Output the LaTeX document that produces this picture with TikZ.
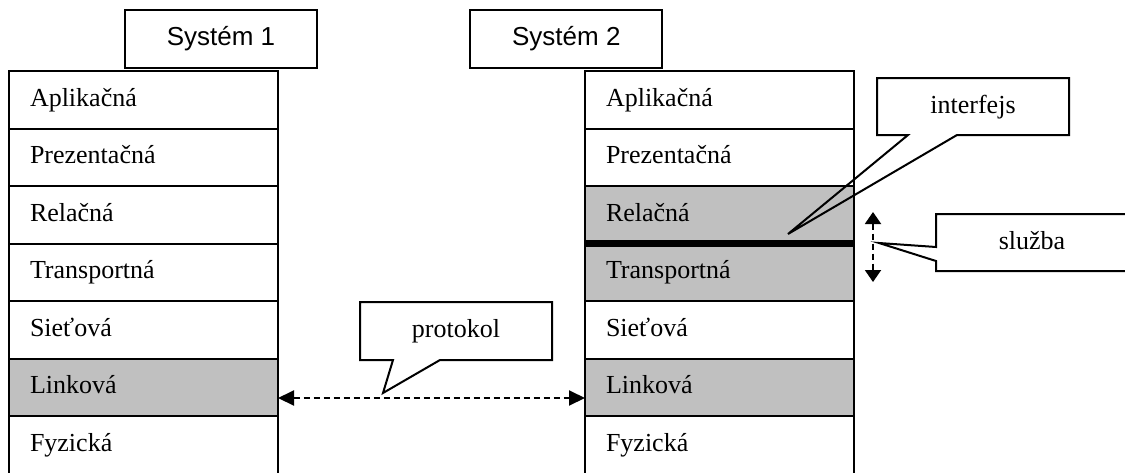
\documentclass[tikz,border=0pt]{standalone}
\usepackage{fontspec}
\setmainfont{Liberation Serif}
\newfontfamily\arialfont{Liberation Sans}
\usetikzlibrary{arrows.meta,calc}
\definecolor{layergray}{RGB}{192,192,192}
\begin{document}
\begin{tikzpicture}[x=1pt,y=-1pt,
  every path/.style={line width=2pt},
  layer/.style={draw,line width=2pt,outer sep=0pt,minimum width=269pt,minimum height=57.5pt,
    inner xsep=21pt,inner ysep=0pt,text width=227pt,align=left,
    text height=19pt,text depth=6pt,font=\fontsize{26}{30}\selectfont},
  shaded/.style={fill=layergray},
  sysbox/.style={draw,line width=2pt,minimum width=192pt,minimum height=58pt,inner sep=0pt,
    font=\arialfont\fontsize{26}{30}\selectfont,text height=19pt,text depth=6pt},
  calltext/.style={inner sep=0pt,font=\fontsize{26}{30}\selectfont,text height=19.5pt,text depth=6pt},
  callout/.style={draw,line width=2pt,line join=miter},
  dasharrow/.style={line width=2pt,dash pattern=on 6pt off 4pt},
]
\useasboundingbox (0,0) rectangle (1125,472);

% system labels
\node[sysbox] (s1) at (221,39) {Systém 1};
\node[sysbox] (s2) at (566.3,39) {Systém 2};

% left stack
\node[layer] (l0) at (143.5,99.75) {Aplikačná};
\node[layer] (l1) at (143.5,157.25) {Prezentačná};
\node[layer] (l2) at (143.5,214.75) {Relačná};
\node[layer] (l3) at (143.5,272.25) {Transportná};
\node[layer] (l4) at (143.5,329.75) {Sieťová};
\node[layer,shaded] (l5) at (143.5,387.25) {Linková};
\node[layer] (l6) at (143.5,444.75) {Fyzická};

% right stack
\node[layer] (r0) at (719.5,99.75) {Aplikačná};
\node[layer] (r1) at (719.5,157.25) {Prezentačná};
\node[layer,shaded] (r2) at (719.5,214.75) {Relačná};
\node[layer,shaded] (r3) at (719.5,272.25) {Transportná};
\node[layer] (r4) at (719.5,329.75) {Sieťová};
\node[layer,shaded] (r5) at (719.5,387.25) {Linková};
\node[layer] (r6) at (719.5,444.75) {Fyzická};

% interface line
\draw[line width=6.5pt] (r2.south west) -- (r2.south east);

% protocol arrow
\coordinate (pa) at ($(l5.east)+(0,10.75)$);
\coordinate (pb) at ($(r5.west)+(0,10.75)$);
\draw[dasharrow,{Triangle[length=16pt,width=15pt]}-{Triangle[length=16pt,width=15pt]}] (pa) -- (pb);

% service arrow
\coordinate (va) at ($(r2.south east)+(19,-31.5)$);
\coordinate (vb) at ($(r2.south east)+(19,38.5)$);
\draw[dasharrow,{Triangle[length=12pt,width=16pt]}-{Triangle[length=12pt,width=16pt]}] (va) -- (vb);

% callout: interfejs
\coordinate (itip) at (788,234);
\draw[callout] (877,78) -- (1069,78) -- (1069,135) -- (957,135) -- (itip) -- (908,135) -- (877,135) -- cycle;
\node[calltext] (it) at (973,106.5) {interfejs};

% callout: služba
\coordinate (stip) at (879,243);
\draw[callout] (936,214) -- (1128,214) -- (1128,271) -- (936,271) -- (936,261) -- (stip) -- (936,247) -- cycle;
\node[calltext] (st) at (1032,242.5) {služba};

% callout: protokol
\coordinate (ptip) at (383,393);
\draw[callout] (360,302) -- (552,302) -- (552,360) -- (440,360) -- (ptip) -- (393,360) -- (360,360) -- cycle;
\node[calltext] (pt) at (456,331) {protokol};
\end{tikzpicture}
\end{document}
